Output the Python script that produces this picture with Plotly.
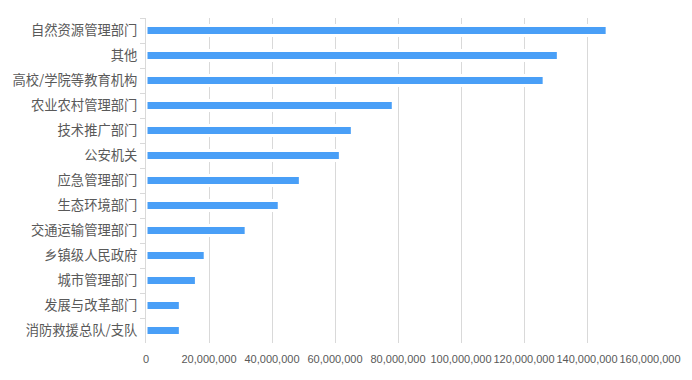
import plotly.graph_objects as go

categories = ["自然资源管理部门", "其他", "高校/学院等教育机构", "农业农村管理部门", "技术推广部门",
              "公安机关", "应急管理部门", "生态环境部门", "交通运输管理部门", "乡镇级人民政府",
              "城市管理部门", "发展与改革部门", "消防救援总队/支队"]
values = [146400000, 130900000, 126400000, 78500000, 65500000, 61700000, 49000000,
          42300000, 31800000, 18800000, 16000000, 10900000, 10900000]
x_ticks = [0, 20000000, 40000000, 60000000, 80000000, 100000000, 120000000, 140000000, 160000000]

fig = go.Figure()
fig.add_trace(go.Bar(
    y=categories, x=values, orientation="h", width=0.4,
    marker=dict(color="#499ff7", line=dict(color="white", width=3)),
))

# page body has an 8px margin, so the figure is offset by 8px
fig.update_layout(
    width=684, height=372,
    margin=dict(l=138, r=42, t=10, b=37),
    paper_bgcolor="white", plot_bgcolor="white",
    showlegend=False,
    font=dict(family="Noto Sans CJK SC", color="#595959"),
)
fig.update_xaxes(
    range=[0, 160000000], tickvals=x_ticks, tickformat=",",
    showgrid=True, gridcolor="#d9d9d9", gridwidth=1,
    zeroline=False, showline=False, ticks="",
    tickangle=0, automargin=False, ticklabelstandoff=8,
    tickfont=dict(family="Liberation Sans, Arial", size=11, color="#595959"),
)
fig.update_yaxes(
    autorange="reversed", type="category",
    showline=True, linecolor="#d9d9d9", linewidth=1,
    ticks="outside", tickson="boundaries", ticklen=5, tickcolor="#d9d9d9",
    showgrid=False, automargin=False, ticklabelstandoff=5,
    tickfont=dict(family="Noto Sans CJK SC", size=13.3, color="#595959"),
)

fig.write_html("out.html")
